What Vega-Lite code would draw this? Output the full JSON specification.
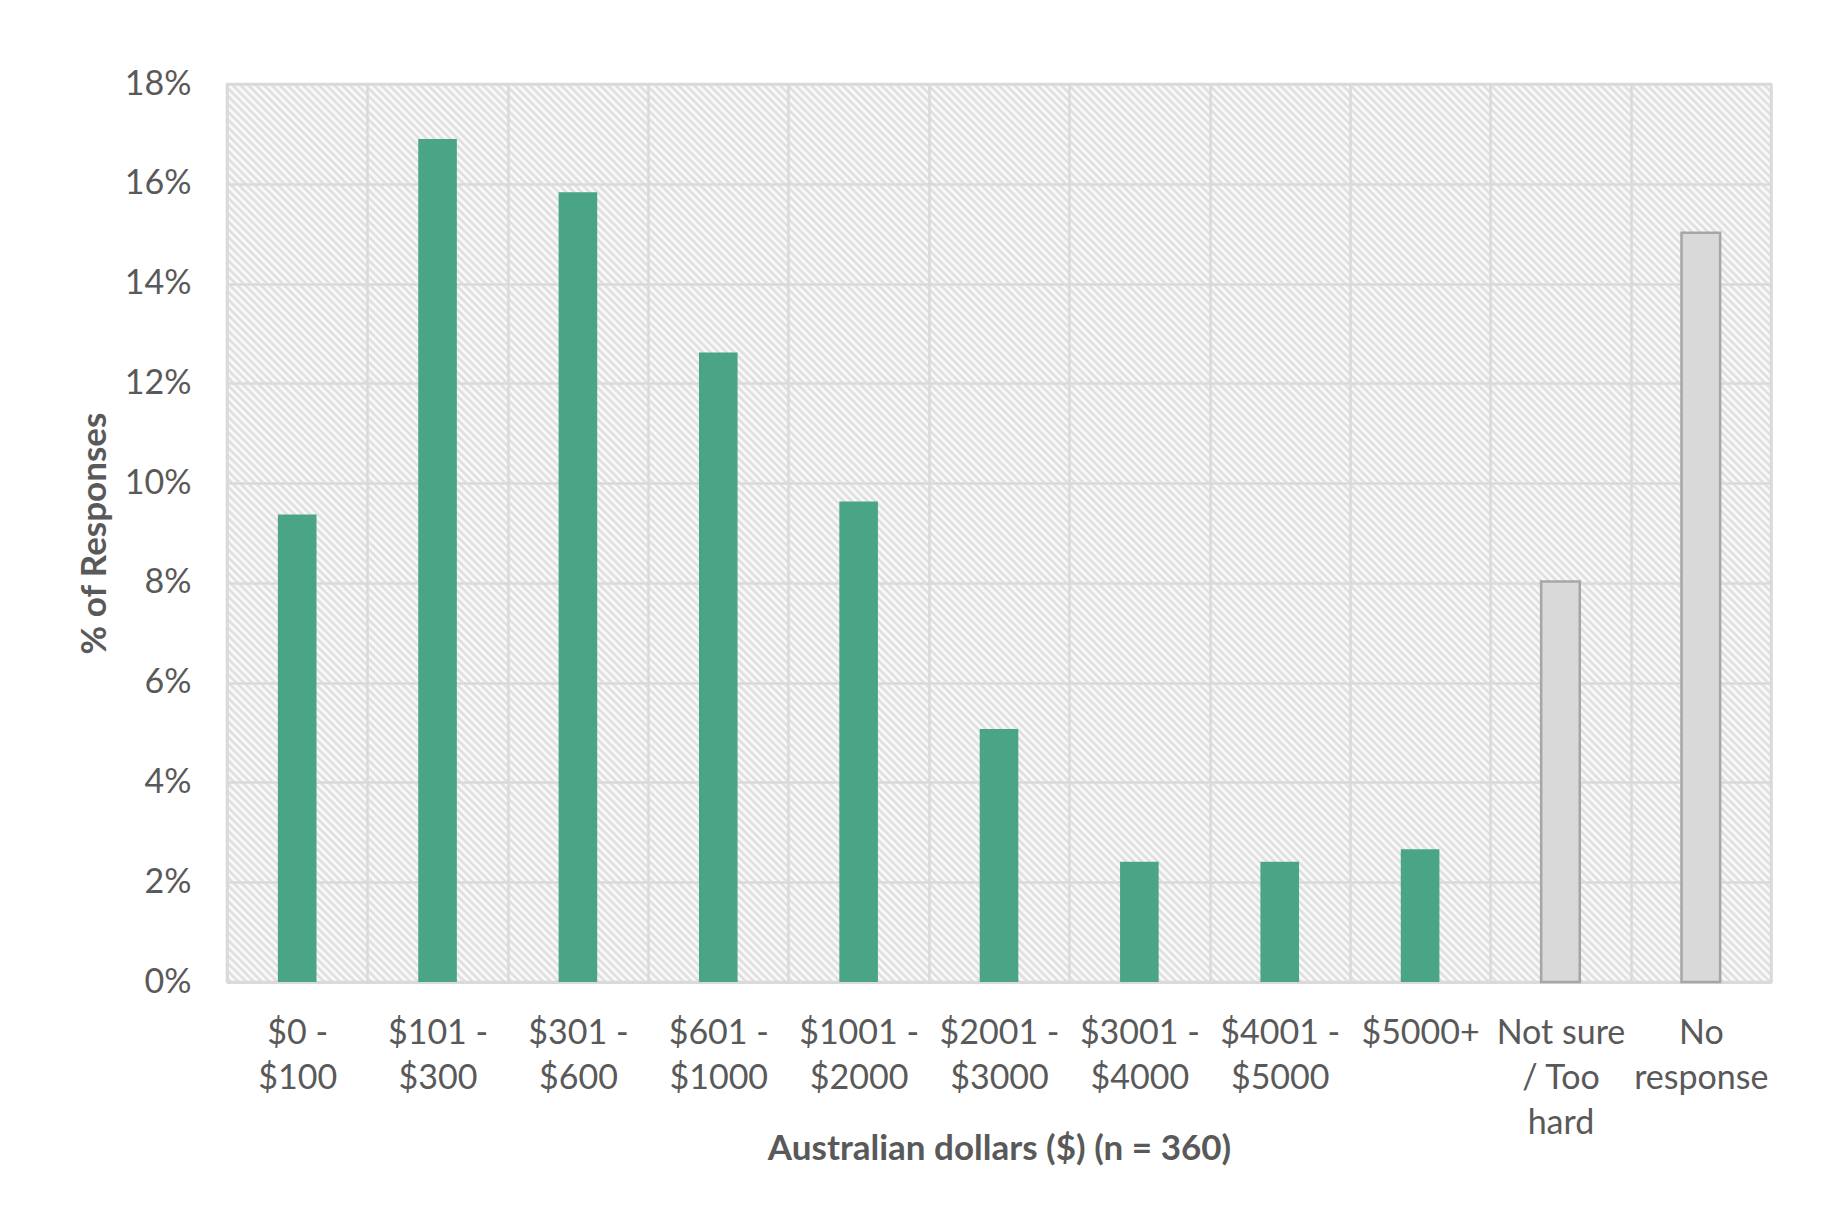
{
  "$schema": "https://vega.github.io/schema/vega-lite/v6.json",
  "width": 1544,
  "height": 898,
  "autosize": {"type": "none"},
  "padding": {"left": 227, "top": 84, "right": 57, "bottom": 228},
  "background": "#ffffff",
  "config": {"view": {"stroke": "#d9d9d9", "strokeWidth": 2.5}, "font": "Lato"},
  "data": {
    "values": [
      {"cat": "$0 - $100", "pct": 0.0937, "group": "range"},
      {"cat": "$101 - $300", "pct": 0.169, "group": "range"},
      {"cat": "$301 - $600", "pct": 0.1583, "group": "range"},
      {"cat": "$601 - $1000", "pct": 0.1262, "group": "range"},
      {"cat": "$1001 - $2000", "pct": 0.0963, "group": "range"},
      {"cat": "$2001 - $3000", "pct": 0.0507, "group": "range"},
      {"cat": "$3001 - $4000", "pct": 0.0241, "group": "range"},
      {"cat": "$4001 - $5000", "pct": 0.0241, "group": "range"},
      {"cat": "$5000+", "pct": 0.0266, "group": "range"},
      {"cat": "Not sure / Too hard", "pct": 0.0803, "group": "other"},
      {"cat": "No response", "pct": 0.1502, "group": "other"}
    ]
  },
  "layer": [
    {
      "data": {"values": [{"area": "plot"}]},
      "mark": {
        "type": "rect",
        "fill": {
          "gradient": "linear", "x1": 0, "y1": 1, "x2": 1.1818, "y2": 0.3126,
          "stops": [
{"offset":0,"color":"#dadada00"},{"offset":0.0016,"color":"#dadada"},{"offset":0.0032,"color":"#dadada00"},{"offset":0.0048,"color":"#dadada"},{"offset":0.0064,"color":"#dadada00"},{"offset":0.008,"color":"#dadada"},{"offset":0.0096,"color":"#dadada00"},{"offset":0.0112,"color":"#dadada"},{"offset":0.0128,"color":"#dadada00"},{"offset":0.0144,"color":"#dadada"},
{"offset":0.016,"color":"#dadada00"},{"offset":0.0176,"color":"#dadada"},{"offset":0.0192,"color":"#dadada00"},{"offset":0.0208,"color":"#dadada"},{"offset":0.0224,"color":"#dadada00"},{"offset":0.024,"color":"#dadada"},{"offset":0.0256,"color":"#dadada00"},{"offset":0.0272,"color":"#dadada"},{"offset":0.0288,"color":"#dadada00"},{"offset":0.0304,"color":"#dadada"},
{"offset":0.032,"color":"#dadada00"},{"offset":0.0336,"color":"#dadada"},{"offset":0.0352,"color":"#dadada00"},{"offset":0.0368,"color":"#dadada"},{"offset":0.0384,"color":"#dadada00"},{"offset":0.04,"color":"#dadada"},{"offset":0.0416,"color":"#dadada00"},{"offset":0.0432,"color":"#dadada"},{"offset":0.0448,"color":"#dadada00"},{"offset":0.0464,"color":"#dadada"},
{"offset":0.048,"color":"#dadada00"},{"offset":0.0496,"color":"#dadada"},{"offset":0.0512,"color":"#dadada00"},{"offset":0.0528,"color":"#dadada"},{"offset":0.0544,"color":"#dadada00"},{"offset":0.056,"color":"#dadada"},{"offset":0.0576,"color":"#dadada00"},{"offset":0.0592,"color":"#dadada"},{"offset":0.0608,"color":"#dadada00"},{"offset":0.0624,"color":"#dadada"},
{"offset":0.064,"color":"#dadada00"},{"offset":0.0656,"color":"#dadada"},{"offset":0.0672,"color":"#dadada00"},{"offset":0.0688,"color":"#dadada"},{"offset":0.0704,"color":"#dadada00"},{"offset":0.072,"color":"#dadada"},{"offset":0.0736,"color":"#dadada00"},{"offset":0.0752,"color":"#dadada"},{"offset":0.0768,"color":"#dadada00"},{"offset":0.0784,"color":"#dadada"},
{"offset":0.08,"color":"#dadada00"},{"offset":0.0816,"color":"#dadada"},{"offset":0.0832,"color":"#dadada00"},{"offset":0.0848,"color":"#dadada"},{"offset":0.0864,"color":"#dadada00"},{"offset":0.088,"color":"#dadada"},{"offset":0.0896,"color":"#dadada00"},{"offset":0.0912,"color":"#dadada"},{"offset":0.0928,"color":"#dadada00"},{"offset":0.0944,"color":"#dadada"},
{"offset":0.096,"color":"#dadada00"},{"offset":0.0976,"color":"#dadada"},{"offset":0.0992,"color":"#dadada00"},{"offset":0.1008,"color":"#dadada"},{"offset":0.1024,"color":"#dadada00"},{"offset":0.104,"color":"#dadada"},{"offset":0.1056,"color":"#dadada00"},{"offset":0.1072,"color":"#dadada"},{"offset":0.1088,"color":"#dadada00"},{"offset":0.1104,"color":"#dadada"},
{"offset":0.112,"color":"#dadada00"},{"offset":0.1136,"color":"#dadada"},{"offset":0.1152,"color":"#dadada00"},{"offset":0.1168,"color":"#dadada"},{"offset":0.1184,"color":"#dadada00"},{"offset":0.12,"color":"#dadada"},{"offset":0.1216,"color":"#dadada00"},{"offset":0.1232,"color":"#dadada"},{"offset":0.1248,"color":"#dadada00"},{"offset":0.1264,"color":"#dadada"},
{"offset":0.128,"color":"#dadada00"},{"offset":0.1296,"color":"#dadada"},{"offset":0.1312,"color":"#dadada00"},{"offset":0.1328,"color":"#dadada"},{"offset":0.1344,"color":"#dadada00"},{"offset":0.136,"color":"#dadada"},{"offset":0.1376,"color":"#dadada00"},{"offset":0.1392,"color":"#dadada"},{"offset":0.1408,"color":"#dadada00"},{"offset":0.1424,"color":"#dadada"},
{"offset":0.144,"color":"#dadada00"},{"offset":0.1456,"color":"#dadada"},{"offset":0.1472,"color":"#dadada00"},{"offset":0.1488,"color":"#dadada"},{"offset":0.1504,"color":"#dadada00"},{"offset":0.152,"color":"#dadada"},{"offset":0.1536,"color":"#dadada00"},{"offset":0.1552,"color":"#dadada"},{"offset":0.1568,"color":"#dadada00"},{"offset":0.1584,"color":"#dadada"},
{"offset":0.16,"color":"#dadada00"},{"offset":0.1616,"color":"#dadada"},{"offset":0.1632,"color":"#dadada00"},{"offset":0.1648,"color":"#dadada"},{"offset":0.1664,"color":"#dadada00"},{"offset":0.168,"color":"#dadada"},{"offset":0.1696,"color":"#dadada00"},{"offset":0.1712,"color":"#dadada"},{"offset":0.1728,"color":"#dadada00"},{"offset":0.1744,"color":"#dadada"},
{"offset":0.176,"color":"#dadada00"},{"offset":0.1776,"color":"#dadada"},{"offset":0.1792,"color":"#dadada00"},{"offset":0.1808,"color":"#dadada"},{"offset":0.1824,"color":"#dadada00"},{"offset":0.184,"color":"#dadada"},{"offset":0.1856,"color":"#dadada00"},{"offset":0.1872,"color":"#dadada"},{"offset":0.1888,"color":"#dadada00"},{"offset":0.1904,"color":"#dadada"},
{"offset":0.192,"color":"#dadada00"},{"offset":0.1936,"color":"#dadada"},{"offset":0.1952,"color":"#dadada00"},{"offset":0.1968,"color":"#dadada"},{"offset":0.1984,"color":"#dadada00"},{"offset":0.2,"color":"#dadada"},{"offset":0.2016,"color":"#dadada00"},{"offset":0.2032,"color":"#dadada"},{"offset":0.2048,"color":"#dadada00"},{"offset":0.2064,"color":"#dadada"},
{"offset":0.208,"color":"#dadada00"},{"offset":0.2096,"color":"#dadada"},{"offset":0.2112,"color":"#dadada00"},{"offset":0.2128,"color":"#dadada"},{"offset":0.2144,"color":"#dadada00"},{"offset":0.216,"color":"#dadada"},{"offset":0.2176,"color":"#dadada00"},{"offset":0.2192,"color":"#dadada"},{"offset":0.2208,"color":"#dadada00"},{"offset":0.2224,"color":"#dadada"},
{"offset":0.224,"color":"#dadada00"},{"offset":0.2256,"color":"#dadada"},{"offset":0.2272,"color":"#dadada00"},{"offset":0.2288,"color":"#dadada"},{"offset":0.2304,"color":"#dadada00"},{"offset":0.232,"color":"#dadada"},{"offset":0.2336,"color":"#dadada00"},{"offset":0.2352,"color":"#dadada"},{"offset":0.2368,"color":"#dadada00"},{"offset":0.2384,"color":"#dadada"},
{"offset":0.24,"color":"#dadada00"},{"offset":0.2416,"color":"#dadada"},{"offset":0.2432,"color":"#dadada00"},{"offset":0.2448,"color":"#dadada"},{"offset":0.2464,"color":"#dadada00"},{"offset":0.248,"color":"#dadada"},{"offset":0.2496,"color":"#dadada00"},{"offset":0.2512,"color":"#dadada"},{"offset":0.2528,"color":"#dadada00"},{"offset":0.2544,"color":"#dadada"},
{"offset":0.256,"color":"#dadada00"},{"offset":0.2576,"color":"#dadada"},{"offset":0.2592,"color":"#dadada00"},{"offset":0.2608,"color":"#dadada"},{"offset":0.2624,"color":"#dadada00"},{"offset":0.264,"color":"#dadada"},{"offset":0.2656,"color":"#dadada00"},{"offset":0.2672,"color":"#dadada"},{"offset":0.2688,"color":"#dadada00"},{"offset":0.2704,"color":"#dadada"},
{"offset":0.272,"color":"#dadada00"},{"offset":0.2736,"color":"#dadada"},{"offset":0.2752,"color":"#dadada00"},{"offset":0.2768,"color":"#dadada"},{"offset":0.2784,"color":"#dadada00"},{"offset":0.28,"color":"#dadada"},{"offset":0.2816,"color":"#dadada00"},{"offset":0.2832,"color":"#dadada"},{"offset":0.2848,"color":"#dadada00"},{"offset":0.2864,"color":"#dadada"},
{"offset":0.288,"color":"#dadada00"},{"offset":0.2896,"color":"#dadada"},{"offset":0.2912,"color":"#dadada00"},{"offset":0.2928,"color":"#dadada"},{"offset":0.2944,"color":"#dadada00"},{"offset":0.296,"color":"#dadada"},{"offset":0.2976,"color":"#dadada00"},{"offset":0.2992,"color":"#dadada"},{"offset":0.3008,"color":"#dadada00"},{"offset":0.3024,"color":"#dadada"},
{"offset":0.304,"color":"#dadada00"},{"offset":0.3056,"color":"#dadada"},{"offset":0.3072,"color":"#dadada00"},{"offset":0.3088,"color":"#dadada"},{"offset":0.3104,"color":"#dadada00"},{"offset":0.312,"color":"#dadada"},{"offset":0.3136,"color":"#dadada00"},{"offset":0.3152,"color":"#dadada"},{"offset":0.3168,"color":"#dadada00"},{"offset":0.3184,"color":"#dadada"},
{"offset":0.32,"color":"#dadada00"},{"offset":0.3216,"color":"#dadada"},{"offset":0.3232,"color":"#dadada00"},{"offset":0.3248,"color":"#dadada"},{"offset":0.3264,"color":"#dadada00"},{"offset":0.328,"color":"#dadada"},{"offset":0.3296,"color":"#dadada00"},{"offset":0.3312,"color":"#dadada"},{"offset":0.3328,"color":"#dadada00"},{"offset":0.3344,"color":"#dadada"},
{"offset":0.336,"color":"#dadada00"},{"offset":0.3376,"color":"#dadada"},{"offset":0.3392,"color":"#dadada00"},{"offset":0.3408,"color":"#dadada"},{"offset":0.3424,"color":"#dadada00"},{"offset":0.344,"color":"#dadada"},{"offset":0.3456,"color":"#dadada00"},{"offset":0.3472,"color":"#dadada"},{"offset":0.3488,"color":"#dadada00"},{"offset":0.3504,"color":"#dadada"},
{"offset":0.352,"color":"#dadada00"},{"offset":0.3536,"color":"#dadada"},{"offset":0.3552,"color":"#dadada00"},{"offset":0.3568,"color":"#dadada"},{"offset":0.3584,"color":"#dadada00"},{"offset":0.36,"color":"#dadada"},{"offset":0.3616,"color":"#dadada00"},{"offset":0.3632,"color":"#dadada"},{"offset":0.3648,"color":"#dadada00"},{"offset":0.3664,"color":"#dadada"},
{"offset":0.368,"color":"#dadada00"},{"offset":0.3696,"color":"#dadada"},{"offset":0.3712,"color":"#dadada00"},{"offset":0.3728,"color":"#dadada"},{"offset":0.3744,"color":"#dadada00"},{"offset":0.376,"color":"#dadada"},{"offset":0.3776,"color":"#dadada00"},{"offset":0.3792,"color":"#dadada"},{"offset":0.3808,"color":"#dadada00"},{"offset":0.3824,"color":"#dadada"},
{"offset":0.384,"color":"#dadada00"},{"offset":0.3856,"color":"#dadada"},{"offset":0.3872,"color":"#dadada00"},{"offset":0.3888,"color":"#dadada"},{"offset":0.3904,"color":"#dadada00"},{"offset":0.392,"color":"#dadada"},{"offset":0.3936,"color":"#dadada00"},{"offset":0.3952,"color":"#dadada"},{"offset":0.3968,"color":"#dadada00"},{"offset":0.3984,"color":"#dadada"},
{"offset":0.4,"color":"#dadada00"},{"offset":0.4016,"color":"#dadada"},{"offset":0.4032,"color":"#dadada00"},{"offset":0.4048,"color":"#dadada"},{"offset":0.4064,"color":"#dadada00"},{"offset":0.408,"color":"#dadada"},{"offset":0.4096,"color":"#dadada00"},{"offset":0.4112,"color":"#dadada"},{"offset":0.4128,"color":"#dadada00"},{"offset":0.4144,"color":"#dadada"},
{"offset":0.416,"color":"#dadada00"},{"offset":0.4176,"color":"#dadada"},{"offset":0.4192,"color":"#dadada00"},{"offset":0.4208,"color":"#dadada"},{"offset":0.4224,"color":"#dadada00"},{"offset":0.424,"color":"#dadada"},{"offset":0.4256,"color":"#dadada00"},{"offset":0.4272,"color":"#dadada"},{"offset":0.4288,"color":"#dadada00"},{"offset":0.4304,"color":"#dadada"},
{"offset":0.432,"color":"#dadada00"},{"offset":0.4336,"color":"#dadada"},{"offset":0.4352,"color":"#dadada00"},{"offset":0.4368,"color":"#dadada"},{"offset":0.4384,"color":"#dadada00"},{"offset":0.44,"color":"#dadada"},{"offset":0.4416,"color":"#dadada00"},{"offset":0.4432,"color":"#dadada"},{"offset":0.4448,"color":"#dadada00"},{"offset":0.4464,"color":"#dadada"},
{"offset":0.448,"color":"#dadada00"},{"offset":0.4496,"color":"#dadada"},{"offset":0.4512,"color":"#dadada00"},{"offset":0.4528,"color":"#dadada"},{"offset":0.4544,"color":"#dadada00"},{"offset":0.456,"color":"#dadada"},{"offset":0.4576,"color":"#dadada00"},{"offset":0.4592,"color":"#dadada"},{"offset":0.4608,"color":"#dadada00"},{"offset":0.4624,"color":"#dadada"},
{"offset":0.464,"color":"#dadada00"},{"offset":0.4656,"color":"#dadada"},{"offset":0.4672,"color":"#dadada00"},{"offset":0.4688,"color":"#dadada"},{"offset":0.4704,"color":"#dadada00"},{"offset":0.472,"color":"#dadada"},{"offset":0.4736,"color":"#dadada00"},{"offset":0.4752,"color":"#dadada"},{"offset":0.4768,"color":"#dadada00"},{"offset":0.4784,"color":"#dadada"},
{"offset":0.48,"color":"#dadada00"},{"offset":0.4816,"color":"#dadada"},{"offset":0.4832,"color":"#dadada00"},{"offset":0.4848,"color":"#dadada"},{"offset":0.4864,"color":"#dadada00"},{"offset":0.488,"color":"#dadada"},{"offset":0.4896,"color":"#dadada00"},{"offset":0.4912,"color":"#dadada"},{"offset":0.4928,"color":"#dadada00"},{"offset":0.4944,"color":"#dadada"},
{"offset":0.496,"color":"#dadada00"},{"offset":0.4976,"color":"#dadada"},{"offset":0.4992,"color":"#dadada00"},{"offset":0.5008,"color":"#dadada"},{"offset":0.5024,"color":"#dadada00"},{"offset":0.504,"color":"#dadada"},{"offset":0.5056,"color":"#dadada00"},{"offset":0.5072,"color":"#dadada"},{"offset":0.5088,"color":"#dadada00"},{"offset":0.5104,"color":"#dadada"},
{"offset":0.512,"color":"#dadada00"},{"offset":0.5136,"color":"#dadada"},{"offset":0.5152,"color":"#dadada00"},{"offset":0.5168,"color":"#dadada"},{"offset":0.5184,"color":"#dadada00"},{"offset":0.52,"color":"#dadada"},{"offset":0.5216,"color":"#dadada00"},{"offset":0.5232,"color":"#dadada"},{"offset":0.5248,"color":"#dadada00"},{"offset":0.5264,"color":"#dadada"},
{"offset":0.528,"color":"#dadada00"},{"offset":0.5296,"color":"#dadada"},{"offset":0.5312,"color":"#dadada00"},{"offset":0.5328,"color":"#dadada"},{"offset":0.5344,"color":"#dadada00"},{"offset":0.536,"color":"#dadada"},{"offset":0.5376,"color":"#dadada00"},{"offset":0.5392,"color":"#dadada"},{"offset":0.5408,"color":"#dadada00"},{"offset":0.5424,"color":"#dadada"},
{"offset":0.544,"color":"#dadada00"},{"offset":0.5456,"color":"#dadada"},{"offset":0.5472,"color":"#dadada00"},{"offset":0.5488,"color":"#dadada"},{"offset":0.5504,"color":"#dadada00"},{"offset":0.552,"color":"#dadada"},{"offset":0.5536,"color":"#dadada00"},{"offset":0.5552,"color":"#dadada"},{"offset":0.5568,"color":"#dadada00"},{"offset":0.5584,"color":"#dadada"},
{"offset":0.56,"color":"#dadada00"},{"offset":0.5616,"color":"#dadada"},{"offset":0.5632,"color":"#dadada00"},{"offset":0.5648,"color":"#dadada"},{"offset":0.5664,"color":"#dadada00"},{"offset":0.568,"color":"#dadada"},{"offset":0.5696,"color":"#dadada00"},{"offset":0.5712,"color":"#dadada"},{"offset":0.5728,"color":"#dadada00"},{"offset":0.5744,"color":"#dadada"},
{"offset":0.576,"color":"#dadada00"},{"offset":0.5776,"color":"#dadada"},{"offset":0.5792,"color":"#dadada00"},{"offset":0.5808,"color":"#dadada"},{"offset":0.5824,"color":"#dadada00"},{"offset":0.584,"color":"#dadada"},{"offset":0.5856,"color":"#dadada00"},{"offset":0.5872,"color":"#dadada"},{"offset":0.5888,"color":"#dadada00"},{"offset":0.5904,"color":"#dadada"},
{"offset":0.592,"color":"#dadada00"},{"offset":0.5936,"color":"#dadada"},{"offset":0.5952,"color":"#dadada00"},{"offset":0.5968,"color":"#dadada"},{"offset":0.5984,"color":"#dadada00"},{"offset":0.6,"color":"#dadada"},{"offset":0.6016,"color":"#dadada00"},{"offset":0.6032,"color":"#dadada"},{"offset":0.6048,"color":"#dadada00"},{"offset":0.6064,"color":"#dadada"},
{"offset":0.608,"color":"#dadada00"},{"offset":0.6096,"color":"#dadada"},{"offset":0.6112,"color":"#dadada00"},{"offset":0.6128,"color":"#dadada"},{"offset":0.6144,"color":"#dadada00"},{"offset":0.616,"color":"#dadada"},{"offset":0.6176,"color":"#dadada00"},{"offset":0.6192,"color":"#dadada"},{"offset":0.6208,"color":"#dadada00"},{"offset":0.6224,"color":"#dadada"},
{"offset":0.624,"color":"#dadada00"},{"offset":0.6256,"color":"#dadada"},{"offset":0.6272,"color":"#dadada00"},{"offset":0.6288,"color":"#dadada"},{"offset":0.6304,"color":"#dadada00"},{"offset":0.632,"color":"#dadada"},{"offset":0.6336,"color":"#dadada00"},{"offset":0.6352,"color":"#dadada"},{"offset":0.6368,"color":"#dadada00"},{"offset":0.6384,"color":"#dadada"},
{"offset":0.64,"color":"#dadada00"},{"offset":0.6416,"color":"#dadada"},{"offset":0.6432,"color":"#dadada00"},{"offset":0.6448,"color":"#dadada"},{"offset":0.6464,"color":"#dadada00"},{"offset":0.648,"color":"#dadada"},{"offset":0.6496,"color":"#dadada00"},{"offset":0.6512,"color":"#dadada"},{"offset":0.6528,"color":"#dadada00"},{"offset":0.6544,"color":"#dadada"},
{"offset":0.656,"color":"#dadada00"},{"offset":0.6576,"color":"#dadada"},{"offset":0.6592,"color":"#dadada00"},{"offset":0.6608,"color":"#dadada"},{"offset":0.6624,"color":"#dadada00"},{"offset":0.664,"color":"#dadada"},{"offset":0.6656,"color":"#dadada00"},{"offset":0.6672,"color":"#dadada"},{"offset":0.6688,"color":"#dadada00"},{"offset":0.6704,"color":"#dadada"},
{"offset":0.672,"color":"#dadada00"},{"offset":0.6736,"color":"#dadada"},{"offset":0.6752,"color":"#dadada00"},{"offset":0.6768,"color":"#dadada"},{"offset":0.6784,"color":"#dadada00"},{"offset":0.68,"color":"#dadada"},{"offset":0.6816,"color":"#dadada00"},{"offset":0.6832,"color":"#dadada"},{"offset":0.6848,"color":"#dadada00"},{"offset":0.6864,"color":"#dadada"},
{"offset":0.688,"color":"#dadada00"},{"offset":0.6896,"color":"#dadada"},{"offset":0.6912,"color":"#dadada00"},{"offset":0.6928,"color":"#dadada"},{"offset":0.6944,"color":"#dadada00"},{"offset":0.696,"color":"#dadada"},{"offset":0.6976,"color":"#dadada00"},{"offset":0.6992,"color":"#dadada"},{"offset":0.7008,"color":"#dadada00"},{"offset":0.7024,"color":"#dadada"},
{"offset":0.704,"color":"#dadada00"},{"offset":0.7056,"color":"#dadada"},{"offset":0.7072,"color":"#dadada00"},{"offset":0.7088,"color":"#dadada"},{"offset":0.7104,"color":"#dadada00"},{"offset":0.712,"color":"#dadada"},{"offset":0.7136,"color":"#dadada00"},{"offset":0.7152,"color":"#dadada"},{"offset":0.7168,"color":"#dadada00"},{"offset":0.7184,"color":"#dadada"},
{"offset":0.72,"color":"#dadada00"},{"offset":0.7216,"color":"#dadada"},{"offset":0.7232,"color":"#dadada00"},{"offset":0.7248,"color":"#dadada"},{"offset":0.7264,"color":"#dadada00"},{"offset":0.728,"color":"#dadada"},{"offset":0.7296,"color":"#dadada00"},{"offset":0.7312,"color":"#dadada"},{"offset":0.7328,"color":"#dadada00"},{"offset":0.7344,"color":"#dadada"},
{"offset":0.736,"color":"#dadada00"},{"offset":0.7376,"color":"#dadada"},{"offset":0.7392,"color":"#dadada00"},{"offset":0.7408,"color":"#dadada"},{"offset":0.7424,"color":"#dadada00"},{"offset":0.744,"color":"#dadada"},{"offset":0.7456,"color":"#dadada00"},{"offset":0.7472,"color":"#dadada"},{"offset":0.7488,"color":"#dadada00"},{"offset":0.7504,"color":"#dadada"},
{"offset":0.752,"color":"#dadada00"},{"offset":0.7536,"color":"#dadada"},{"offset":0.7552,"color":"#dadada00"},{"offset":0.7568,"color":"#dadada"},{"offset":0.7584,"color":"#dadada00"},{"offset":0.76,"color":"#dadada"},{"offset":0.7616,"color":"#dadada00"},{"offset":0.7632,"color":"#dadada"},{"offset":0.7648,"color":"#dadada00"},{"offset":0.7664,"color":"#dadada"},
{"offset":0.768,"color":"#dadada00"},{"offset":0.7696,"color":"#dadada"},{"offset":0.7712,"color":"#dadada00"},{"offset":0.7728,"color":"#dadada"},{"offset":0.7744,"color":"#dadada00"},{"offset":0.776,"color":"#dadada"},{"offset":0.7776,"color":"#dadada00"},{"offset":0.7792,"color":"#dadada"},{"offset":0.7808,"color":"#dadada00"},{"offset":0.7824,"color":"#dadada"},
{"offset":0.784,"color":"#dadada00"},{"offset":0.7856,"color":"#dadada"},{"offset":0.7872,"color":"#dadada00"},{"offset":0.7888,"color":"#dadada"},{"offset":0.7904,"color":"#dadada00"},{"offset":0.792,"color":"#dadada"},{"offset":0.7936,"color":"#dadada00"},{"offset":0.7952,"color":"#dadada"},{"offset":0.7968,"color":"#dadada00"},{"offset":0.7984,"color":"#dadada"},
{"offset":0.8,"color":"#dadada00"},{"offset":0.8016,"color":"#dadada"},{"offset":0.8032,"color":"#dadada00"},{"offset":0.8048,"color":"#dadada"},{"offset":0.8064,"color":"#dadada00"},{"offset":0.808,"color":"#dadada"},{"offset":0.8096,"color":"#dadada00"},{"offset":0.8112,"color":"#dadada"},{"offset":0.8128,"color":"#dadada00"},{"offset":0.8144,"color":"#dadada"},
{"offset":0.816,"color":"#dadada00"},{"offset":0.8176,"color":"#dadada"},{"offset":0.8192,"color":"#dadada00"},{"offset":0.8208,"color":"#dadada"},{"offset":0.8224,"color":"#dadada00"},{"offset":0.824,"color":"#dadada"},{"offset":0.8256,"color":"#dadada00"},{"offset":0.8272,"color":"#dadada"},{"offset":0.8288,"color":"#dadada00"},{"offset":0.8304,"color":"#dadada"},
{"offset":0.832,"color":"#dadada00"},{"offset":0.8336,"color":"#dadada"},{"offset":0.8352,"color":"#dadada00"},{"offset":0.8368,"color":"#dadada"},{"offset":0.8384,"color":"#dadada00"},{"offset":0.84,"color":"#dadada"},{"offset":0.8416,"color":"#dadada00"},{"offset":0.8432,"color":"#dadada"},{"offset":0.8448,"color":"#dadada00"},{"offset":0.8464,"color":"#dadada"},
{"offset":0.848,"color":"#dadada00"},{"offset":0.8496,"color":"#dadada"},{"offset":0.8512,"color":"#dadada00"},{"offset":0.8528,"color":"#dadada"},{"offset":0.8544,"color":"#dadada00"},{"offset":0.856,"color":"#dadada"},{"offset":0.8576,"color":"#dadada00"},{"offset":0.8592,"color":"#dadada"},{"offset":0.8608,"color":"#dadada00"},{"offset":0.8624,"color":"#dadada"},
{"offset":0.864,"color":"#dadada00"},{"offset":0.8656,"color":"#dadada"},{"offset":0.8672,"color":"#dadada00"},{"offset":0.8688,"color":"#dadada"},{"offset":0.8704,"color":"#dadada00"},{"offset":0.872,"color":"#dadada"},{"offset":0.8736,"color":"#dadada00"},{"offset":0.8752,"color":"#dadada"},{"offset":0.8768,"color":"#dadada00"},{"offset":0.8784,"color":"#dadada"},
{"offset":0.88,"color":"#dadada00"},{"offset":0.8816,"color":"#dadada"},{"offset":0.8832,"color":"#dadada00"},{"offset":0.8848,"color":"#dadada"},{"offset":0.8864,"color":"#dadada00"},{"offset":0.888,"color":"#dadada"},{"offset":0.8896,"color":"#dadada00"},{"offset":0.8912,"color":"#dadada"},{"offset":0.8928,"color":"#dadada00"},{"offset":0.8944,"color":"#dadada"},
{"offset":0.896,"color":"#dadada00"},{"offset":0.8976,"color":"#dadada"},{"offset":0.8992,"color":"#dadada00"},{"offset":0.9008,"color":"#dadada"},{"offset":0.9024,"color":"#dadada00"},{"offset":0.904,"color":"#dadada"},{"offset":0.9056,"color":"#dadada00"},{"offset":0.9072,"color":"#dadada"},{"offset":0.9088,"color":"#dadada00"},{"offset":0.9104,"color":"#dadada"},
{"offset":0.912,"color":"#dadada00"},{"offset":0.9136,"color":"#dadada"},{"offset":0.9152,"color":"#dadada00"},{"offset":0.9168,"color":"#dadada"},{"offset":0.9184,"color":"#dadada00"},{"offset":0.92,"color":"#dadada"},{"offset":0.9216,"color":"#dadada00"},{"offset":0.9232,"color":"#dadada"},{"offset":0.9248,"color":"#dadada00"},{"offset":0.9264,"color":"#dadada"},
{"offset":0.928,"color":"#dadada00"},{"offset":0.9296,"color":"#dadada"},{"offset":0.9312,"color":"#dadada00"},{"offset":0.9328,"color":"#dadada"},{"offset":0.9344,"color":"#dadada00"},{"offset":0.936,"color":"#dadada"},{"offset":0.9376,"color":"#dadada00"},{"offset":0.9392,"color":"#dadada"},{"offset":0.9408,"color":"#dadada00"},{"offset":0.9424,"color":"#dadada"},
{"offset":0.944,"color":"#dadada00"},{"offset":0.9456,"color":"#dadada"},{"offset":0.9472,"color":"#dadada00"},{"offset":0.9488,"color":"#dadada"},{"offset":0.9504,"color":"#dadada00"},{"offset":0.952,"color":"#dadada"},{"offset":0.9536,"color":"#dadada00"},{"offset":0.9552,"color":"#dadada"},{"offset":0.9568,"color":"#dadada00"},{"offset":0.9584,"color":"#dadada"},
{"offset":0.96,"color":"#dadada00"},{"offset":0.9616,"color":"#dadada"},{"offset":0.9632,"color":"#dadada00"},{"offset":0.9648,"color":"#dadada"},{"offset":0.9664,"color":"#dadada00"},{"offset":0.968,"color":"#dadada"},{"offset":0.9696,"color":"#dadada00"},{"offset":0.9712,"color":"#dadada"},{"offset":0.9728,"color":"#dadada00"},{"offset":0.9744,"color":"#dadada"},
{"offset":0.976,"color":"#dadada00"},{"offset":0.9776,"color":"#dadada"},{"offset":0.9792,"color":"#dadada00"},{"offset":0.9808,"color":"#dadada"},{"offset":0.9824,"color":"#dadada00"},{"offset":0.984,"color":"#dadada"},{"offset":0.9856,"color":"#dadada00"},{"offset":0.9872,"color":"#dadada"},{"offset":0.9888,"color":"#dadada00"},{"offset":0.9904,"color":"#dadada"},
{"offset":0.992,"color":"#dadada00"},{"offset":0.9936,"color":"#dadada"},{"offset":0.9952,"color":"#dadada00"},{"offset":0.9968,"color":"#dadada"},{"offset":0.9984,"color":"#dadada00"},{"offset":1,"color":"#dadada"}
          ]
        }
      },
      "encoding": {
        "y": {
          "datum": 0, "type": "quantitative", "title": "% of Responses",
          "scale": {"domain": [0, 0.18]},
          "axis": {"values": [0, 0.02, 0.04, 0.06, 0.08, 0.1, 0.12, 0.14, 0.16, 0.18], "format": ".0%", "grid": true, "gridColor": "#d9d9d9", "gridWidth": 2.5, "domain": false, "ticks": false, "tickSize": 0, "labelFont": "Lato", "labelFontSize": 34, "labelColor": "#595959", "labelPadding": 36, "titleFont": "Lato", "titleFontSize": 35, "titleFontWeight": "bold", "titleColor": "#595959", "titleAngle": -90, "titleAlign": "center", "titleBaseline": "alphabetic", "titleX": -122, "titleY": 449}
        },
        "y2": {"datum": 0.18}
      }
    },
    {
      "transform": [{"filter": "datum.group == 'range'"}],
      "mark": {"type": "bar", "fill": "#49a585", "width": {"band": 0.275}},
      "encoding": {
        "x": {
          "field": "cat", "type": "nominal", "title": "Australian dollars ($) (n = 360)",
          "scale": {"domain": ["$0 - $100", "$101 - $300", "$301 - $600", "$601 - $1000", "$1001 - $2000", "$2001 - $3000", "$3001 - $4000", "$4001 - $5000", "$5000+", "Not sure / Too hard", "No response"], "paddingInner": 0, "paddingOuter": 0},
          "axis": {"labelAngle": 0, "labelExpr": "datum.label == 'Not sure / Too hard' ? ['Not sure', '/ Too', 'hard'] : datum.label == 'No response' ? ['No', 'response'] : split(replace(datum.label, ' - ', ' -|'), '|')", "labelFont": "Lato", "labelFontSize": 34, "labelColor": "#595959", "labelPadding": 34, "labelLineHeight": 45, "labelOverlap": false, "labelLimit": 300, "ticks": false, "tickSize": 0, "tickBand": "extent", "grid": true, "gridColor": "#d9d9d9", "gridWidth": 2.5, "domainColor": "#d9d9d9", "domainWidth": 2.5, "titleFont": "Lato", "titleFontSize": 35, "titleFontWeight": "bold", "titleColor": "#595959", "titleBaseline": "alphabetic", "titleY": 177}
        },
        "y": {
          "field": "pct", "type": "quantitative", "title": "% of Responses",
          "scale": {"domain": [0, 0.18]},
          "axis": {"values": [0, 0.02, 0.04, 0.06, 0.08, 0.1, 0.12, 0.14, 0.16, 0.18], "format": ".0%", "grid": true, "gridColor": "#d9d9d9", "gridWidth": 2.5, "domain": false, "ticks": false, "tickSize": 0, "labelFont": "Lato", "labelFontSize": 34, "labelColor": "#595959", "labelPadding": 36, "titleFont": "Lato", "titleFontSize": 35, "titleFontWeight": "bold", "titleColor": "#595959", "titleAngle": -90, "titleAlign": "center", "titleBaseline": "alphabetic", "titleX": -122, "titleY": 449}
        }
      }
    },
    {
      "transform": [{"filter": "datum.group == 'other'"}],
      "mark": {"type": "bar", "fill": "#d9d9d9", "stroke": "#a6a6a6", "strokeWidth": 2.5, "width": {"band": 0.275}},
      "encoding": {
        "x": {
          "field": "cat", "type": "nominal", "title": "Australian dollars ($) (n = 360)",
          "scale": {"domain": ["$0 - $100", "$101 - $300", "$301 - $600", "$601 - $1000", "$1001 - $2000", "$2001 - $3000", "$3001 - $4000", "$4001 - $5000", "$5000+", "Not sure / Too hard", "No response"], "paddingInner": 0, "paddingOuter": 0},
          "axis": {"labelAngle": 0, "labelExpr": "datum.label == 'Not sure / Too hard' ? ['Not sure', '/ Too', 'hard'] : datum.label == 'No response' ? ['No', 'response'] : split(replace(datum.label, ' - ', ' -|'), '|')", "labelFont": "Lato", "labelFontSize": 34, "labelColor": "#595959", "labelPadding": 34, "labelLineHeight": 45, "labelOverlap": false, "labelLimit": 300, "ticks": false, "tickSize": 0, "tickBand": "extent", "grid": true, "gridColor": "#d9d9d9", "gridWidth": 2.5, "domainColor": "#d9d9d9", "domainWidth": 2.5, "titleFont": "Lato", "titleFontSize": 35, "titleFontWeight": "bold", "titleColor": "#595959", "titleBaseline": "alphabetic", "titleY": 177}
        },
        "y": {
          "field": "pct", "type": "quantitative", "title": "% of Responses",
          "scale": {"domain": [0, 0.18]},
          "axis": {"values": [0, 0.02, 0.04, 0.06, 0.08, 0.1, 0.12, 0.14, 0.16, 0.18], "format": ".0%", "grid": true, "gridColor": "#d9d9d9", "gridWidth": 2.5, "domain": false, "ticks": false, "tickSize": 0, "labelFont": "Lato", "labelFontSize": 34, "labelColor": "#595959", "labelPadding": 36, "titleFont": "Lato", "titleFontSize": 35, "titleFontWeight": "bold", "titleColor": "#595959", "titleAngle": -90, "titleAlign": "center", "titleBaseline": "alphabetic", "titleX": -122, "titleY": 449}
        }
      }
    }
  ]
}
